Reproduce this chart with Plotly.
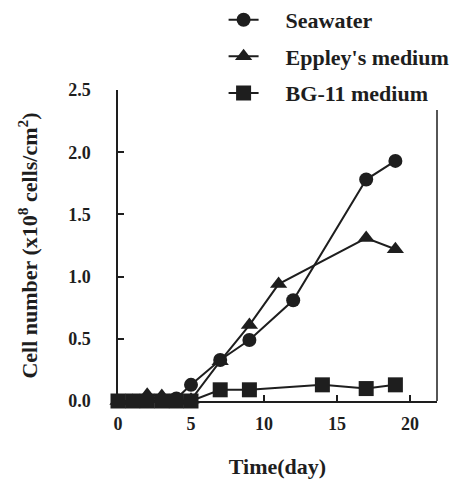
import plotly.graph_objects as go

days_sea = [0, 1, 2, 3, 4, 5, 7, 9, 12, 17, 19]
sea = [0, 0, 0, 0, 0.02, 0.13, 0.33, 0.49, 0.81, 1.78, 1.93]

days_epp = [0, 1, 2, 3, 4, 5, 7, 9, 11, 17, 19]
epp = [0, 0, 0.05, 0.04, 0, 0.01, 0.32, 0.61, 0.94, 1.31, 1.22]

days_bg = [0, 1, 2, 3, 4, 5, 7, 9, 14, 17, 19]
bg = [0, 0, 0, 0, 0, 0, 0.09, 0.09, 0.13, 0.10, 0.13]

names = ["Seawater", "Eppley's medium", "BG-11 medium"]
symbols = ["circle", "triangle-up", "square"]
xtick_vals = [0, 5, 10, 15, 20]
ytick_vals = [0.0, 0.5, 1.0, 1.5, 2.0, 2.5]
ytick_text = ["0.0", "0.5", "1.0", "1.5", "2.0", "2.5"]

SERIF = "Liberation Serif, Times New Roman, serif"
INK = "#1e1e1e"
PAD = "\u00a0\u00a0\u00a0\u00a0"
msizes = [14, 15, 15]

fig = go.Figure()
for i, (x, y) in enumerate([(days_sea, sea), (days_epp, epp), (days_bg, bg)]):
    fig.add_trace(go.Scatter(
        x=x, y=y, name=PAD + names[i], mode="lines+markers",
        line=dict(color=INK, width=2),
        marker=dict(symbol=symbols[i], size=msizes[i], color=INK,
                    line=dict(width=0)),
        cliponaxis=False, legendgroup=str(i),
    ))

fig.update_layout(
    width=461, height=485,
    margin=dict(l=110, r=32, t=82, b=92, autoexpand=False),
    paper_bgcolor="white", plot_bgcolor="white",
    font=dict(family=SERIF, color=INK, size=18, weight="bold"),
    showlegend=True,
    legend=dict(x=0.331, y=1.293, xanchor="left", yanchor="top",
                font=dict(family=SERIF, size=22, color=INK, weight="bold"),
                tracegroupgap=5, bgcolor="rgba(0,0,0,0)"),
    xaxis=dict(range=[0, 21.85], tickvals=xtick_vals, ticks="inside", ticklen=6,
               tickwidth=1.5, tickcolor=INK, showline=True, linecolor=INK,
               linewidth=1.5, showgrid=False, zeroline=False, automargin=False,
               ticklabelstandoff=6,
               tickfont=dict(size=18, family=SERIF, weight="bold"),
               title=dict(text="Time(day)", standoff=25,
                          font=dict(size=22, family=SERIF, weight="bold"))),
    yaxis=dict(range=[0, 2.5], tickvals=ytick_vals, ticktext=ytick_text,
               ticks="inside", ticklen=6, tickwidth=1.5, tickcolor=INK,
               showline=True, linecolor=INK, linewidth=1.5, showgrid=False,
               zeroline=False, ticklabelstandoff=22, automargin=False,
               tickfont=dict(size=18, family=SERIF, weight="bold"),
               title=dict(text="Cell number (x10<sup>8</sup> cells/cm<sup>2</sup>)",
                          standoff=24,
                          font=dict(size=22, family=SERIF, weight="bold"))),
    shapes=[dict(type="line", xref="paper", yref="paper", x0=1, x1=1,
                 y0=0, y1=0.936, line=dict(color=INK, width=1.5))],
)

fig.write_html("out.html")
